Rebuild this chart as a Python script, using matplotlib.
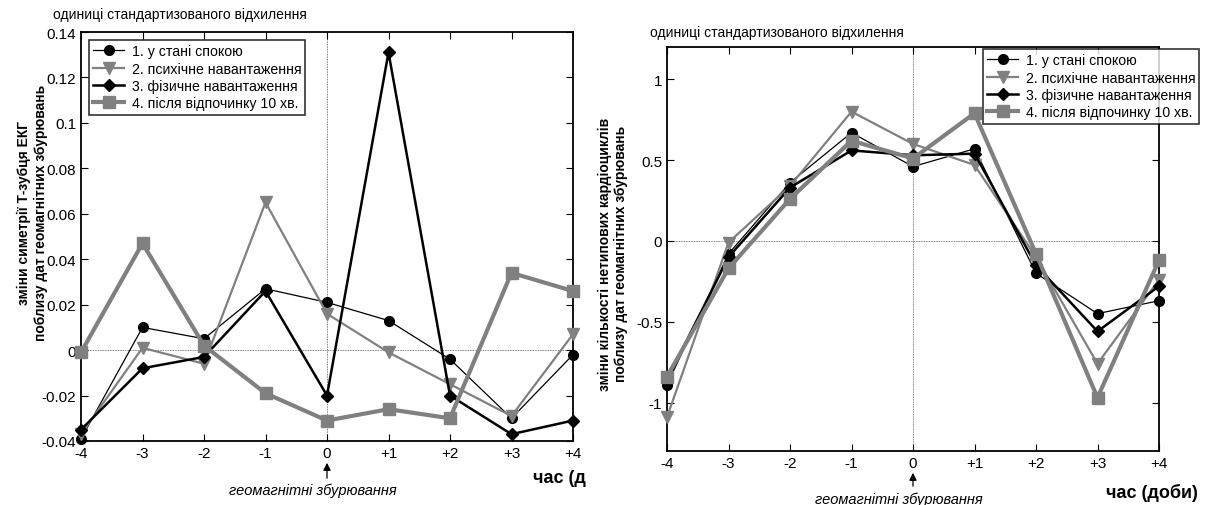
import matplotlib.pyplot as plt
from matplotlib.transforms import Bbox, TransformedBbox

plt.rcParams['font.family'] = ['Liberation Sans', 'DejaVu Sans']

days = [-4, -3, -2, -1, 0, 1, 2, 3, 4]
day_labels = ['-4', '-3', '-2', '-1', '0', '+1', '+2', '+3', '+4']
names = ['1. у стані спокою', '2. психічне навантаження',
         '3. фізичне навантаження', '4. після відпочинку 10 хв.']

# left panel: T-wave symmetry
t_rest = [-0.039, 0.010, 0.005, 0.027, 0.021, 0.013, -0.004, -0.030, -0.002]
t_mental = [-0.037, 0.001, -0.006, 0.065, 0.016, -0.001, -0.015, -0.029, 0.007]
t_phys = [-0.035, -0.008, -0.003, 0.026, -0.020, 0.131, -0.020, -0.037, -0.031]
t_after = [-0.001, 0.047, 0.002, -0.019, -0.031, -0.026, -0.030, 0.034, 0.026]

# right panel: atypical cardiocycles
c_rest = [-0.89, -0.08, 0.36, 0.67, 0.46, 0.57, -0.20, -0.45, -0.37]
c_mental = [-1.09, -0.01, 0.34, 0.80, 0.60, 0.47, -0.10, -0.76, -0.24]
c_phys = [-0.86, -0.10, 0.33, 0.56, 0.53, 0.54, -0.15, -0.56, -0.28]
c_after = [-0.84, -0.17, 0.26, 0.62, 0.51, 0.79, -0.08, -0.97, -0.12]

grey = '#808080'
styles = [
    dict(color='black', lw=0.9, marker='o', ms=7),
    dict(color=grey, lw=1.6, marker='v', ms=9),
    dict(color='black', lw=1.8, marker='D', ms=6.5),
    dict(color=grey, lw=3.0, marker='s', ms=9),
]

fig = plt.figure(figsize=(12.05, 5.06), dpi=100)
ax1 = fig.add_axes([81 / 1205, 1 - 442 / 506, 492 / 1205, 409 / 506])
ax2 = fig.add_axes([667 / 1205, 1 - 452 / 506, 492 / 1205, 404 / 506])


def draw(ax, series, ylim, yticks, yticklabels, ylabel, label_xy, leg_bbox):
    ax.axhline(0, color='#555555', lw=0.6, ls=(0, (1, 1)), zorder=1)
    ax.axvline(0, color='#555555', lw=0.6, ls=(0, (1, 1)), zorder=1)
    for vals, name, st in zip(series, names, styles):
        ax.plot(days, vals, label=name, zorder=3, clip_on=False, **st)
    ax.set_xlim(-4, 4)
    ax.set_ylim(*ylim)
    ax.set_xticks(days)
    ax.set_xticklabels(day_labels)
    ax.set_yticks(yticks)
    ax.set_yticklabels(yticklabels)
    ax.tick_params(direction='in', top=True, right=True, labelsize=11, length=5)
    for s in ax.spines.values():
        s.set_linewidth(1.3)
    ax.set_ylabel(ylabel, fontsize=10, fontweight='bold')
    ax.yaxis.set_label_coords(*label_xy)
    leg = ax.legend(loc='upper left', bbox_to_anchor=leg_bbox, fontsize=10.2,
                    frameon=True, fancybox=False, edgecolor='black',
                    borderpad=0.3, labelspacing=0.24, handlelength=2.2,
                    borderaxespad=0, handletextpad=0.5)
    leg.get_frame().set_linewidth(1.2)
    leg.set_zorder(5)


draw(ax1, [t_rest, t_mental, t_phys, t_after], (-0.04, 0.14),
     [-0.04, -0.02, 0, 0.02, 0.04, 0.06, 0.08, 0.1, 0.12, 0.14],
     ['-0.04', '-0.02', '0', '0.02', '0.04', '0.06', '0.08', '0.1', '0.12', '0.14'],
     'зміни симетрії Т-зубця ЕКГ\nпоблизу дат геомагнітних збурювань',
     (-0.068, 0.56), (8 / 492, 1 - 8 / 409))
draw(ax2, [c_rest, c_mental, c_phys, c_after], (-1.3, 1.2),
     [-1, -0.5, 0, 0.5, 1], ['-1', '-0.5', '0', '0.5', '1'],
     'зміни кількості нетипових кардіоциклів\nпоблизу дат геомагнітних збурювань',
     (-0.079, 0.49), (316 / 492, 1 - 2 / 404))

for ax, tip, base, ty in [(ax1, 461, 482, 491), (ax2, 471, 490, 500)]:
    x0 = ax.transData.transform((0, 0))[0] / 1205
    ax.annotate('', xy=(x0, 1 - tip / 506), xytext=(x0, 1 - base / 506),
                xycoords='figure fraction', textcoords='figure fraction',
                arrowprops=dict(arrowstyle='-|>', color='black', lw=0.9,
                                mutation_scale=11))
    fig.text(x0 - 0.012, 1 - ty / 506, 'геомагнітні збурювання', style='italic',
             fontsize=10.5, ha='center', va='center')

fig.text(53 / 1205, 1 - 15 / 506, 'одиниці стандартизованого відхилення',
         fontsize=10, va='center')
fig.text(650 / 1205, 1 - 33 / 506, 'одиниці стандартизованого відхилення',
         fontsize=10, va='center')

t = fig.text(533 / 1205, 1 - 478 / 506, 'час (доби)', fontsize=13,
             fontweight='bold', va='center')
t.set_clip_box(TransformedBbox(Bbox([[0, 0], [586 / 1205, 1]]), fig.transFigure))
t.set_clip_on(True)
fig.text(1106 / 1205, 1 - 493 / 506, 'час (доби)', fontsize=13,
         fontweight='bold', va='center')

fig.savefig('out.png', dpi=100)
